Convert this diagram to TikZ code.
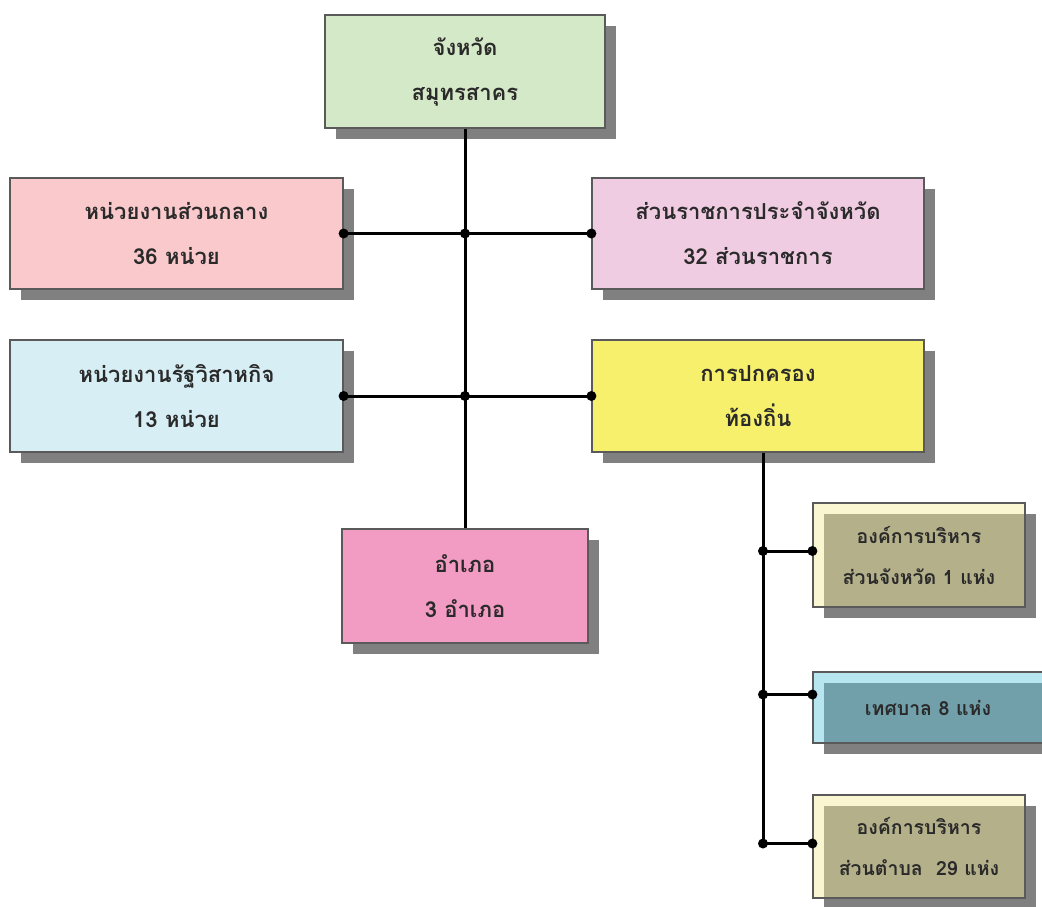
\documentclass[tikz,border=0pt]{standalone}
\usepackage{fontspec}
\newfontfamily\thai[Script=Thai]{Loma}
\usetikzlibrary{shadows}

\definecolor{shade}{HTML}{808080}
\definecolor{rim}{HTML}{5A5A5A}
\definecolor{ink}{HTML}{2A2A2A}
\definecolor{cGreen}{HTML}{D4E9C7}
\definecolor{cPink}{HTML}{F9C9CC}
\definecolor{cMauve}{HTML}{F0CCE2}
\definecolor{cSky}{HTML}{D7EEF5}
\definecolor{cYellow}{HTML}{F7F06C}
\definecolor{cRose}{HTML}{F29BC3}
\definecolor{cCream}{HTML}{F2EC98}
\definecolor{cTeal}{HTML}{62C8DE}

\tikzset{
  box/.style={rectangle, draw=rim, line width=1.2pt, text=ink,
    font=\thai\bfseries\fontsize{22}{45}\selectfont, align=center,
    inner sep=0pt,
    drop shadow={shadow xshift=11pt, shadow yshift=-11pt,
                 fill=shade, draw=none, opacity=1}},
  subbox/.style={box, fill opacity=0.45, text opacity=1,
    font=\thai\bfseries\fontsize{19.5}{41}\selectfont},
  conn/.style={line width=3pt, draw=black},
  dot/.style={fill=black}
}

\begin{document}
\begin{tikzpicture}[x=1pt, y=-1pt]
\useasboundingbox (0,0) rectangle (1042,907);

% main boxes
\node[box, fill=cGreen, minimum width=280pt, minimum height=113pt] (top) at (465,71.5) {จังหวัด\\สมุทรสาคร};
\node[box, fill=cPink, minimum width=333pt, minimum height=111pt] (L1) at (176.5,233.5) {หน่วยงานส่วนกลาง\\36 หน่วย};
\node[box, fill=cMauve, minimum width=332pt, minimum height=111pt] (R1) at (758,233.5) {ส่วนราชการประจำจังหวัด\\32 ส่วนราชการ};
\node[box, fill=cSky, minimum width=333pt, minimum height=112pt] (L2) at (176.5,396) {หน่วยงานรัฐวิสาหกิจ\\13 หน่วย};
\node[box, fill=cYellow, minimum width=332pt, minimum height=112pt] (R2) at (758,396) {การปกครอง\\ท้องถิ่น};
\node[box, fill=cRose, minimum width=246pt, minimum height=114pt] (bot) at (465,586) {อำเภอ\\3 อำเภอ};

% local government boxes
\node[subbox, fill=cCream, minimum width=212pt, minimum height=104pt] (S1) at (919,555) {องค์การบริหาร\\ส่วนจังหวัด 1 แห่ง};
\node[subbox, fill=cTeal, minimum width=230pt, minimum height=71pt] (S2) at (928,707.5) {เทศบาล 8 แห่ง};
\node[subbox, fill=cCream, minimum width=212pt, minimum height=103pt] (S3) at (919,846.5) {องค์การบริหาร\\ส่วนตำบล\ \ 29 แห่ง};

% central trunk and branches
\draw[conn] (top.south) -- (bot.north);
\draw[conn] (L1.east) -- (R1.west);
\draw[conn] (L2.east) -- (R2.west);
\foreach \p in {L1.east, R1.west, L2.east, R2.west}
  \fill[dot] (\p) circle (5pt);
\fill[dot] (top.south |- L1.east) circle (5pt);
\fill[dot] (top.south |- L2.east) circle (5pt);

% local government trunk
\coordinate (rt) at ([xshift=5pt]R2.south);
\coordinate (b1) at ([yshift=4pt]S1.west);
\coordinate (b2) at ([yshift=13pt]S2.west);
\coordinate (b3) at ([yshift=3pt]S3.west);
\draw[conn] (rt) -- (rt |- b3) -- (b3);
\draw[conn] (rt |- b1) -- (b1);
\draw[conn] (rt |- b2) -- (b2);
\foreach \p in {b1, b2, b3}
  \fill[dot] (\p) circle (5pt);
\fill[dot] (rt |- b1) circle (5pt);
\fill[dot] (rt |- b2) circle (5pt);
\fill[dot] (rt |- b3) circle (5pt);
\end{tikzpicture}
\end{document}
